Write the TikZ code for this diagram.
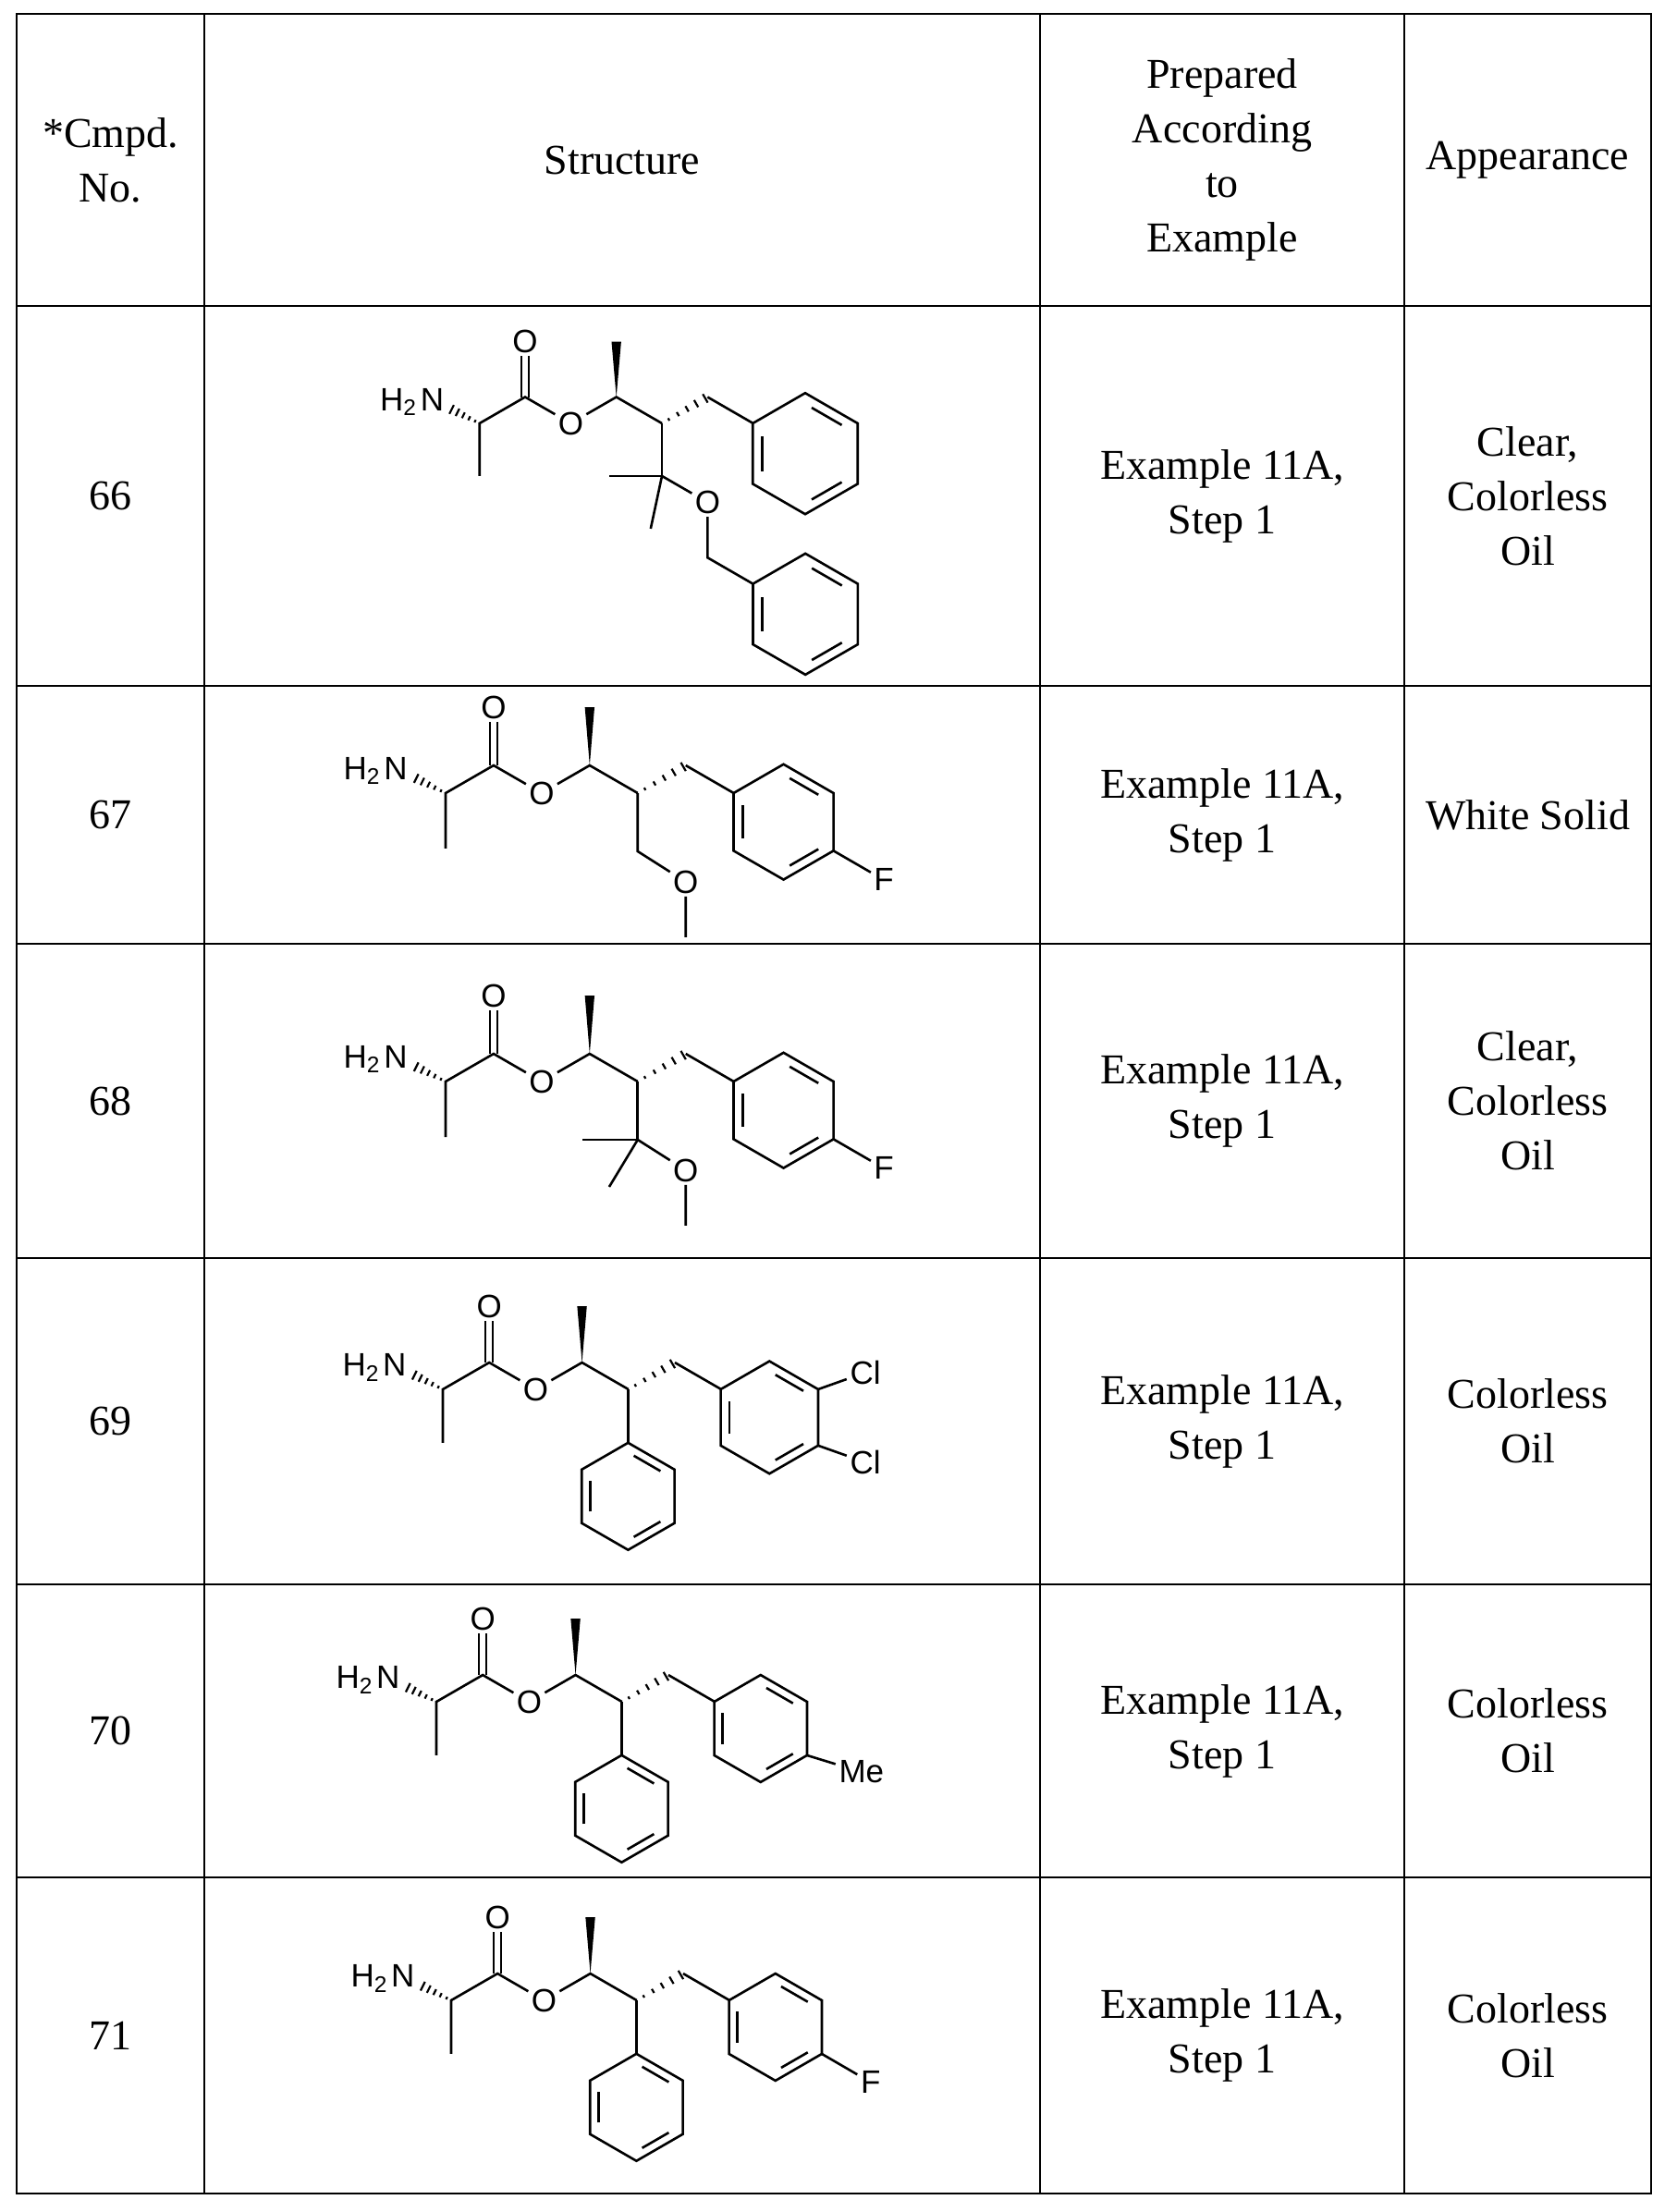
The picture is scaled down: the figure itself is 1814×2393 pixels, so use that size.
\documentclass[tikz,border=0pt]{standalone}
\usepackage{fontspec}
\setmainfont{Liberation Serif}
\newfontfamily\chemfont{Liberation Sans}
\usetikzlibrary{calc,positioning}

\tikzset{
  bond/.style={line width=1.3pt},
  atom/.style={font=\chemfont\fontsize{17.5}{18}\selectfont, inner sep=1.5pt},
  cell/.style={align=center, font=\fontsize{23}{29.5}\selectfont},
  rule/.style={line width=1.4pt}
}

% hashed and wedged bonds (\bs = scale of the scope)
\newcommand\hashb[2]{\foreach \t in {0.15,0.35,0.55,0.75,0.95}{%
  \pgfmathsetmacro\hlen{(0.4+\t*2.4)/\bs}%
  \draw[line width=1.1pt] ($(#1)!\t!(#2)!\hlen pt!90:(#2)$) -- ($(#1)!\t!(#2)!\hlen pt!-90:(#2)$);}}
\newcommand\wedgeb[2]{\pgfmathsetmacro\wlen{2.6/\bs}%
  \fill (#1) -- ($(#2)!\wlen pt!90:(#1)$) -- ($(#2)!\wlen pt!-90:(#1)$) -- cycle;}

% benzene ring: name, centre, radius
\newcommand\benzene[3]{%
  \foreach \k/\a in {1/-90,2/-30,3/30,4/90,5/150,6/210}{%
    \coordinate (#1\k) at ($(#2)+(\a:#3)$);
    \coordinate (#1i\k) at ($(#2)+(\a:{0.82*#3})$);}
  \draw[bond] (#11) -- (#12) -- (#13) -- (#14) -- (#15) -- (#16) -- cycle;
  \foreach \i/\j in {1/2,3/4,5/6}{\draw[bond] ($(#1i\i)!0.15!(#1i\j)$) -- ($(#1i\i)!0.85!(#1i\j)$);}}

% alanine ester part, common to every row
\newcommand\backbone[1]{%
  \def\bs{#1}%
  \pgfmathsetmacro\dsh{2/\bs}%
  \coordinate (A) at (0,0);
  \coordinate (Me) at (0,1);
  \coordinate (C) at (0.866,-0.5);
  \node[atom] (Od) at (0.866,-1.55) {O};
  \node[atom] (Oe) at (1.732,0) {O};
  \coordinate (C3) at (2.598,-0.5);
  \coordinate (W) at (2.598,-1.55);
  \coordinate (C4) at (3.464,0);
  \coordinate (CH) at (4.330,-0.5);
  \coordinate (R) at (5.196,0);
  \node[atom] (N) at (-0.9,-0.45) {N};
  \node[atom, anchor=base east, inner xsep=0pt] (H) at (N.base west) {H\textsubscript{2}};
  \coordinate (Nb) at ($(A)!0.62!(N)$);
  \draw[bond] (Me) -- (A) -- (C) -- (Oe) -- (C3) -- (C4);
  \draw[bond] ([xshift=-\dsh pt]C) -- ([xshift=-\dsh pt]Od.south);
  \draw[bond] ([xshift=\dsh pt]C) -- ([xshift=\dsh pt]Od.south);
  \draw[bond] (CH) -- (R);
  \hashb{A}{Nb}
  \hashb{C4}{CH}
  \wedgeb{C3}{W}}

\begin{document}
\begin{tikzpicture}[x=0.5pt, y=-0.5pt]
\useasboundingbox (0,0) rectangle (1814,2393);

% table
\draw[rule] (18,15) rectangle (1786,2373);
\foreach \xv in {221,1125,1519}{\draw[rule] (\xv,15) -- (\xv,2373);}
\foreach \yv in {331,742,1021,1361,1714,2031}{\draw[rule] (18,\yv) -- (1786,\yv);}

\node[cell] (h1) at (119.5,173) {*Cmpd.\\No.};
\node[cell] (h2) at (673,173) {Structure};
\node[cell] (h3) at (1322,173) {Prepared\\According\\to\\Example};
\node[cell] (h4) at (1652.5,173) {Appearance};

\foreach \n/\yc/\app in {66/536.5/{Clear,\\Colorless\\Oil}, 67/881.5/{White Solid},
    68/1191/{Clear,\\Colorless\\Oil}, 69/1537.5/{Colorless\\Oil},
    70/1872.5/{Colorless\\Oil}, 71/2202/{Colorless\\Oil}}{
  \node[cell] (no\n) at (119.5,\yc) {\n};
  \node[cell] (ex\n) at (1322,\yc) {Example 11A,\\Step 1};
  \node[cell] (ap\n) at (1652.5,\yc) {\app};
}

% 66
\begin{scope}[shift={(518.7,458)}, scale=57]
  \backbone{57}
  \coordinate (C5) at (3.464,1.0);
  \coordinate (Me1) at (2.464,1.0);
  \coordinate (Me2) at (3.25,2.0);
  \node[atom] (O2) at (4.33,1.5) {O};
  \coordinate (C6) at (4.33,2.55);
  \coordinate (Rc) at ($(R)+(30:1.15)$);
  \benzene{ra}{Rc}{1.15}
  \coordinate (Rd) at ($(5.196,3.05)+(30:1.15)$);
  \benzene{rb}{Rd}{1.15}
  \draw[bond] (C4) -- (C5) -- (Me1);
  \draw[bond] (C5) -- (Me2);
  \draw[bond] (C5) -- (O2) -- (C6) -- (rb6);
\end{scope}

% 67
\begin{scope}[shift={(482,858)}, scale=60]
  \backbone{60}
  \coordinate (C5) at (3.464,1.05);
  \node[atom] (O2) at (4.33,1.6) {O};
  \coordinate (Me3) at (4.33,2.6);
  \coordinate (Rc) at ($(R)+(30:1.04)$);
  \benzene{ra}{Rc}{1.04}
  \node[atom] (F) at ($(ra3)+(30:1.05)$) {F};
  \draw[bond] (C4) -- (C5) -- (O2) -- (Me3);
  \draw[bond] (ra3) -- (F);
\end{scope}

% 68
\begin{scope}[shift={(482,1170)}, scale=60]
  \backbone{60}
  \coordinate (C5) at (3.464,1.05);
  \coordinate (Me1) at (2.464,1.05);
  \coordinate (Me2) at (2.95,1.9);
  \node[atom] (O2) at (4.33,1.6) {O};
  \coordinate (Me3) at (4.33,2.6);
  \coordinate (Rc) at ($(R)+(30:1.04)$);
  \benzene{ra}{Rc}{1.04}
  \node[atom] (F) at ($(ra3)+(30:1.05)$) {F};
  \draw[bond] (C4) -- (C5) -- (Me1);
  \draw[bond] (C5) -- (Me2);
  \draw[bond] (C5) -- (O2) -- (Me3);
  \draw[bond] (ra3) -- (F);
\end{scope}

% 69
\begin{scope}[shift={(479,1503)}, scale=58]
  \backbone{58}
  \coordinate (C5) at (3.464,1.0);
  \coordinate (Pc) at ($(C5)+(90:1.0)$);
  \benzene{pa}{Pc}{1.0}
  \coordinate (Rc) at ($(R)+(30:1.05)$);
  \benzene{ra}{Rc}{1.05}
  \node[atom, anchor=west] (Cl1) at ($(ra2)+(-30:0.62)$) {Cl};
  \node[atom, anchor=west] (Cl2) at ($(ra3)+(30:0.62)$) {Cl};
  \draw[bond] (C4) -- (C5);
  \draw[bond] (ra2) -- (Cl1);
  \draw[bond] (ra3) -- (Cl2);
\end{scope}

% 70
\begin{scope}[shift={(472,1841)}, scale=58]
  \backbone{58}
  \coordinate (C5) at (3.464,1.0);
  \coordinate (Pc) at ($(C5)+(90:1.0)$);
  \benzene{pa}{Pc}{1.0}
  \coordinate (Rc) at ($(R)+(30:1.0)$);
  \benzene{ra}{Rc}{1.0}
  \node[atom, anchor=west] (Mt) at ($(ra3)+(30:0.62)$) {Me};
  \draw[bond] (C4) -- (C5);
  \draw[bond] (ra3) -- (Mt);
\end{scope}

% 71
\begin{scope}[shift={(488,2164)}, scale=58]
  \backbone{58}
  \coordinate (C5) at (3.464,1.0);
  \coordinate (Pc) at ($(C5)+(90:1.0)$);
  \benzene{pa}{Pc}{1.0}
  \coordinate (Rc) at ($(R)+(30:1.0)$);
  \benzene{ra}{Rc}{1.0}
  \node[atom] (F) at ($(ra3)+(30:1.05)$) {F};
  \draw[bond] (C4) -- (C5);
  \draw[bond] (ra3) -- (F);
\end{scope}
\end{tikzpicture}
\end{document}
